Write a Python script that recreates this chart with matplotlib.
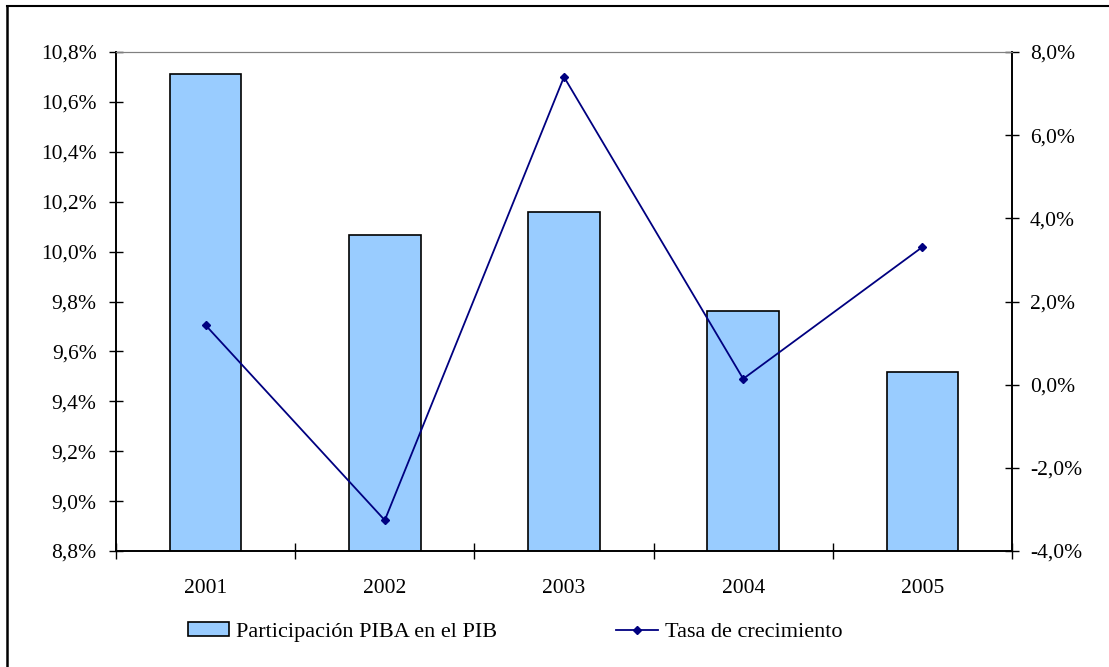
import numpy as np
import matplotlib
matplotlib.use("Agg")
import matplotlib.pyplot as plt
from matplotlib.lines import Line2D
from matplotlib.patches import Patch
from matplotlib.ticker import FuncFormatter

years = ["2001", "2002", "2003", "2004", "2005"]
participacion = [10.71, 10.066, 10.157, 9.762, 9.517]   # % del PIB
crecimiento = [1.43, -3.26, 7.40, 0.14, 3.31]           # tasa %

plt.rcParams['font.family'] = ['Liberation Serif', 'DejaVu Serif']
FS = 15.5

W, H = 1109, 667
fig = plt.figure(figsize=(W / 100, H / 100), dpi=100)

# plot area in pixels
left, right, top, bottom = 116, 1012, 52, 551
ax = fig.add_axes([left / W, (H - bottom) / H, (right - left) / W, (bottom - top) / H])
ax2 = ax.twinx()

fmt = FuncFormatter(lambda v, p: f"{v:.1f}%".replace('.', ','))

x = np.arange(len(years))
ax.bar(x, participacion, width=0.4, color='#99CCFF', edgecolor='black', linewidth=1.2, zorder=2)
ax.set_xlim(-0.5, len(years) - 0.5)
ax.set_ylim(8.8, 10.8)
ax.set_yticks(np.arange(8.8, 10.81, 0.2))
ax.yaxis.set_major_formatter(fmt)

ax.set_xticks(x)
ax.set_xticklabels(years)
ax.set_xticks(np.arange(-0.5, len(years)), minor=True)
ax.tick_params(axis='x', which='major', length=0, pad=20, labelsize=FS)
ax.tick_params(axis='x', which='minor', length=11, direction='inout', width=1)
ax.tick_params(axis='y', length=10, direction='inout', width=1, labelsize=FS, pad=9)

ax2.plot(x, crecimiento, color='#000080', marker='D', markersize=4.5, linewidth=1.3, zorder=3)
ax2.set_ylim(-4, 8)
ax2.set_yticks(np.arange(-4, 8.01, 2))
ax2.yaxis.set_major_formatter(fmt)
ax2.tick_params(axis='y', length=10, direction='inout', width=1, labelsize=FS, pad=8)

for a in (ax, ax2):
    a.spines['top'].set_color('#808080')
    a.spines['left'].set_linewidth(1.2)
    a.spines['right'].set_linewidth(1.2)
    a.spines['bottom'].set_linewidth(1.2)

# outer chart frame (top and left visible)
fig.add_artist(Line2D([7 / W, 1.0], [1 - 6 / H, 1 - 6 / H], color='black', linewidth=1.5))
fig.add_artist(Line2D([7 / W, 7 / W], [0, 1 - 6 / H], color='black', linewidth=1.8))

# legend: two entries placed separately, like the original
leg_y = 1 - 632 / H
fig.legend([Patch(facecolor='#99CCFF', edgecolor='black', linewidth=1.2)],
           ["Participación PIBA en el PIB"], loc='center left',
           bbox_to_anchor=(188 / W, leg_y), frameon=False, fontsize=16,
           handlelength=1.85, handleheight=0.55, handletextpad=0.3,
           borderpad=0, borderaxespad=0)
fig.legend([Line2D([0], [0], color='#000080', marker='D', markersize=4.5, linewidth=1.3)],
           ["Tasa de crecimiento"], loc='center left',
           bbox_to_anchor=(616 / W, leg_y), frameon=False, fontsize=16,
           handlelength=1.9, handletextpad=0.3, borderpad=0, borderaxespad=0)

fig.savefig("out.png", dpi=100)
